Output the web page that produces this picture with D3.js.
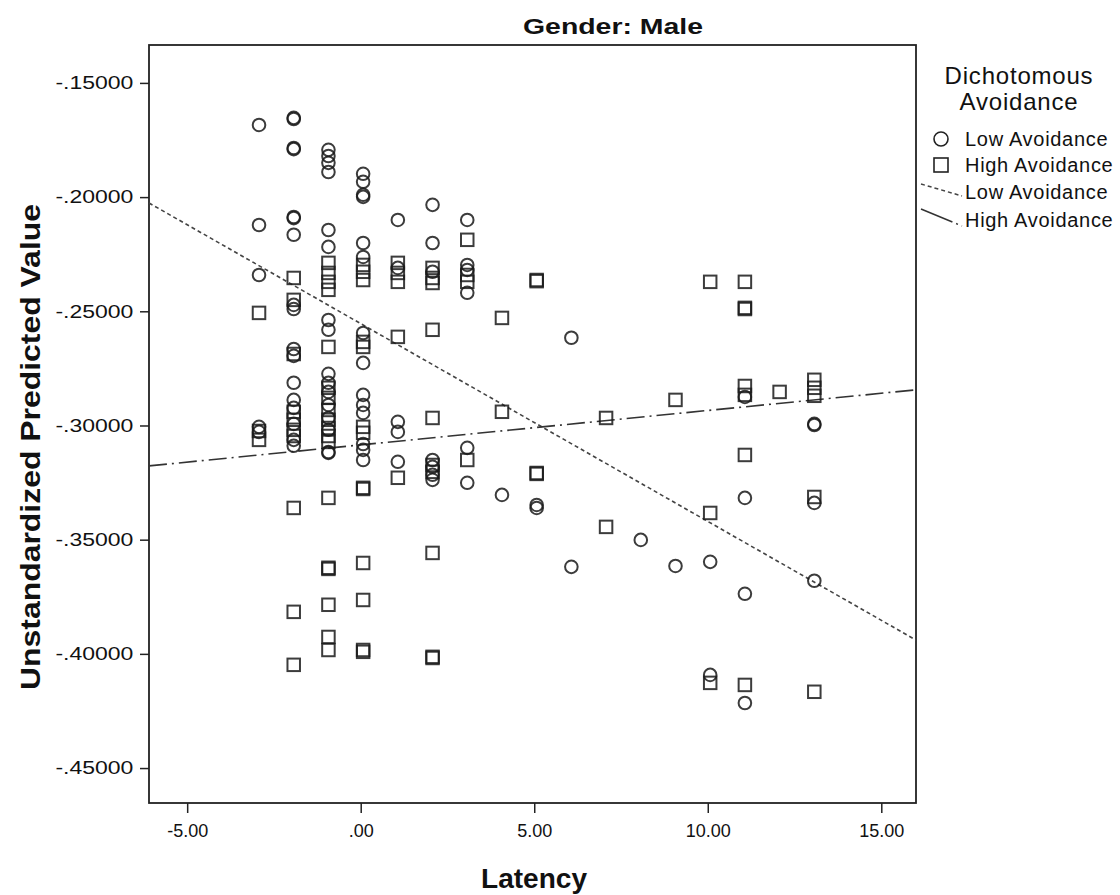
<!DOCTYPE html>
<html lang="en">
<head>
  <meta charset="UTF-8">
  <title>Gender: Male - Predicted Value by Latency</title>
  <script src="https://d3js.org/d3.v7.min.js"></script>
  <style>
    body {
      margin: 0;
      background: #fff;
      font-family: 'Liberation Sans', Arial, sans-serif;
    }
    svg text {
      fill: #111;
    }
  </style>
</head>
<body>
<div id="chart"></div>

<script>
  // Low Avoidance: [latency, unstandardized predicted value]
  const lowPoints = [
    [-2.93, -0.1684], [-2.93, -0.2122], [-2.93, -0.2341], [-2.93, -0.3006], [-2.93, -0.3028],
    [-1.93, -0.1653], [-1.93, -0.1658], [-1.93, -0.1785], [-1.93, -0.1790], [-1.93, -0.2087],
    [-1.93, -0.2092], [-1.93, -0.2165], [-1.93, -0.2472], [-1.93, -0.2490], [-1.93, -0.2665],
    [-1.93, -0.2695], [-1.93, -0.2813], [-1.93, -0.2888], [-1.93, -0.2923], [-1.93, -0.2993],
    [-1.93, -0.3063], [-1.93, -0.3089],
    [-0.93, -0.1793], [-0.93, -0.1820], [-0.93, -0.1850], [-0.93, -0.1890], [-0.93, -0.2144],
    [-0.93, -0.2218], [-0.93, -0.2538], [-0.93, -0.2581], [-0.93, -0.2774], [-0.93, -0.2813],
    [-0.93, -0.2853], [-0.93, -0.2910], [-0.93, -0.2967], [-0.93, -0.3019], [-0.93, -0.3116],
    [-0.93, -0.3120],
    [0.07, -0.1898], [0.07, -0.1933], [0.07, -0.1990], [0.07, -0.1999], [0.07, -0.2201],
    [0.07, -0.2262], [0.07, -0.2595], [0.07, -0.2726], [0.07, -0.2866], [0.07, -0.2910],
    [0.07, -0.2945], [0.07, -0.3081], [0.07, -0.3107], [0.07, -0.3151],
    [1.07, -0.2100], [1.07, -0.2310], [1.07, -0.2984], [1.07, -0.3028], [1.07, -0.3159],
    [2.07, -0.2034], [2.07, -0.2201], [2.07, -0.2327], [2.07, -0.3151], [2.07, -0.3181],
    [2.07, -0.3216], [2.07, -0.3238],
    [3.07, -0.2100], [3.07, -0.2297], [3.07, -0.2319], [3.07, -0.2419], [3.07, -0.3098],
    [3.07, -0.3251],
    [4.07, -0.3304],
    [5.07, -0.3348], [5.07, -0.3361],
    [6.07, -0.2616], [6.07, -0.3619],
    [8.07, -0.3501],
    [9.07, -0.3615],
    [10.07, -0.3597], [10.07, -0.4092],
    [11.07, -0.2875], [11.07, -0.3317], [11.07, -0.3737], [11.07, -0.4215],
    [13.07, -0.2993], [13.07, -0.2998], [13.07, -0.3339], [13.07, -0.3680]
  ];

  // High Avoidance: [latency, unstandardized predicted value]
  const highPoints = [
    [-2.93, -0.2507], [-2.93, -0.3024], [-2.93, -0.3063],
    [-1.93, -0.2354], [-1.93, -0.2450], [-1.93, -0.2687], [-1.93, -0.2940], [-1.93, -0.2975],
    [-1.93, -0.3019], [-1.93, -0.3046], [-1.93, -0.3361], [-1.93, -0.3816], [-1.93, -0.4048],
    [-0.93, -0.2288], [-0.93, -0.2332], [-0.93, -0.2371], [-0.93, -0.2406], [-0.93, -0.2656],
    [-0.93, -0.2835], [-0.93, -0.2879], [-0.93, -0.2932], [-0.93, -0.2975], [-0.93, -0.3011],
    [-0.93, -0.3046], [-0.93, -0.3072], [-0.93, -0.3317], [-0.93, -0.3623], [-0.93, -0.3628],
    [-0.93, -0.3785], [-0.93, -0.3926], [-0.93, -0.3983],
    [0.07, -0.2297], [0.07, -0.2327], [0.07, -0.2363], [0.07, -0.2634], [0.07, -0.2656],
    [0.07, -0.3006], [0.07, -0.3032], [0.07, -0.3273], [0.07, -0.3278], [0.07, -0.3602],
    [0.07, -0.3764], [0.07, -0.3983], [0.07, -0.3991],
    [1.07, -0.2288], [1.07, -0.2332], [1.07, -0.2371], [1.07, -0.2612], [1.07, -0.3229],
    [2.07, -0.2310], [2.07, -0.2354], [2.07, -0.2376], [2.07, -0.2581], [2.07, -0.2967],
    [2.07, -0.3173], [2.07, -0.3203], [2.07, -0.3558], [2.07, -0.4013], [2.07, -0.4018],
    [3.07, -0.2187], [3.07, -0.2341], [3.07, -0.2371], [3.07, -0.3151],
    [4.07, -0.2529], [4.07, -0.2940],
    [5.07, -0.2363], [5.07, -0.2368], [5.07, -0.3208], [5.07, -0.3212],
    [7.07, -0.2967], [7.07, -0.3444],
    [9.07, -0.2888],
    [10.07, -0.2371], [10.07, -0.3383], [10.07, -0.4127],
    [11.07, -0.2371], [11.07, -0.2485], [11.07, -0.2490], [11.07, -0.2827], [11.07, -0.2866],
    [11.07, -0.3129], [11.07, -0.4136],
    [12.07, -0.2853],
    [13.07, -0.2800], [13.07, -0.2835], [13.07, -0.2870], [13.07, -0.3313], [13.07, -0.4166]
  ];

  // fit lines: [intercept, slope]
  const lowFit = [-0.2554, -0.00866];
  const highFit = [-0.3085, 0.001507];

  const xTicks = [-5, 0, 5, 10, 15];
  const yTicks = [-0.15, -0.20, -0.25, -0.30, -0.35, -0.40, -0.45];
  const legendLabels = ["Low Avoidance", "High Avoidance", "Low Avoidance", "High Avoidance"];

  const width = 1120, height = 895;
  const plot = { left: 149, right: 916, top: 45, bottom: 803 };

  const x = d3.scaleLinear().domain([-6.1, 16.0]).range([plot.left, plot.right]);
  const y = d3.scaleLinear().domain([-0.4653, -0.1334]).range([plot.bottom, plot.top]);

  // SPSS style numbers: plain hyphen, no leading zero
  const spss = (v, n) => d3.format("." + n + "f")(v)
    .replace("\u2212", "-")
    .replace(/^(-?)0\./, "$1.");

  const svg = d3.select("#chart").append("svg")
    .attr("width", width)
    .attr("height", height);

  svg.append("clipPath").attr("id", "clip")
    .append("rect")
    .attr("x", plot.left).attr("y", plot.top)
    .attr("width", plot.right - plot.left).attr("height", plot.bottom - plot.top);

  // title
  svg.append("text")
    .attr("x", 613).attr("y", 34)
    .attr("text-anchor", "middle")
    .attr("textLength", 180)
    .attr("lengthAdjust", "spacingAndGlyphs")
    .style("font-size", "22px").style("font-weight", "bold")
    .text("Gender: Male");

  // axes
  const xAxis = d3.axisBottom(x).tickValues(xTicks).tickSize(10).tickSizeOuter(0)
    .tickFormat(d => spss(d, 2));
  const yAxis = d3.axisLeft(y).tickValues(yTicks).tickSize(9).tickSizeOuter(0)
    .tickFormat(d => spss(d, 5));

  const gx = svg.append("g")
    .attr("transform", `translate(0,${plot.bottom})`)
    .call(xAxis);
  const gy = svg.append("g")
    .attr("transform", `translate(${plot.left},0)`)
    .call(yAxis);

  [gx, gy].forEach(g => {
    g.select(".domain").remove();
    g.selectAll(".tick line").attr("stroke", "#222").attr("stroke-width", 1.5);
    g.selectAll(".tick text")
      .style("font-size", "18px")
      .style("font-family", "'Liberation Sans', Arial, sans-serif")
      .attr("fill", "#111");
  });
  gx.selectAll(".tick text").attr("dy", "1.15em");
  gy.selectAll(".tick text")
    .attr("dx", "-0.2em")
    .attr("textLength", 78)
    .attr("lengthAdjust", "spacingAndGlyphs");

  // frame
  svg.append("rect")
    .attr("x", plot.left).attr("y", plot.top)
    .attr("width", plot.right - plot.left).attr("height", plot.bottom - plot.top)
    .attr("fill", "none")
    .attr("stroke", "#222")
    .attr("stroke-width", 1.8);

  // axis titles
  svg.append("text")
    .attr("x", 534).attr("y", 888)
    .attr("text-anchor", "middle")
    .attr("textLength", 106)
    .attr("lengthAdjust", "spacingAndGlyphs")
    .style("font-size", "27px").style("font-weight", "bold")
    .text("Latency");

  svg.append("text")
    .attr("transform", `translate(40,${447}) rotate(-90)`)
    .attr("text-anchor", "middle")
    .attr("textLength", 486)
    .attr("lengthAdjust", "spacingAndGlyphs")
    .style("font-size", "27px").style("font-weight", "bold")
    .text("Unstandardized Predicted Value");

  const marks = svg.append("g").attr("clip-path", "url(#clip)");

  // fit lines
  const fitLine = fit => x.domain().map(v => [v, fit[0] + fit[1] * v]);
  const line = d3.line().x(d => x(d[0])).y(d => y(d[1]));

  marks.append("path")
    .datum(fitLine(lowFit))
    .attr("d", line)
    .attr("fill", "none")
    .attr("stroke", "#444")
    .attr("stroke-width", 1.6)
    .attr("stroke-dasharray", "4,3");

  marks.append("path")
    .datum(fitLine(highFit))
    .attr("d", line)
    .attr("fill", "none")
    .attr("stroke", "#333")
    .attr("stroke-width", 1.6)
    .attr("stroke-dasharray", "18,5,2,5");

  // markers
  marks.selectAll(".low")
    .data(lowPoints)
    .join("circle")
    .attr("class", "low")
    .attr("cx", d => x(d[0]))
    .attr("cy", d => y(d[1]))
    .attr("r", 6.3)
    .attr("fill", "none")
    .attr("stroke", "#1a1a1a")
    .attr("stroke-opacity", 0.85)
    .attr("stroke-width", 2);

  const sq = 12.5;
  marks.selectAll(".high")
    .data(highPoints)
    .join("rect")
    .attr("class", "high")
    .attr("x", d => x(d[0]) - sq / 2)
    .attr("y", d => y(d[1]) - sq / 2)
    .attr("width", sq)
    .attr("height", sq)
    .attr("fill", "none")
    .attr("stroke", "#1a1a1a")
    .attr("stroke-opacity", 0.85)
    .attr("stroke-width", 2);

  // legend
  const legend = svg.append("g");
  legend.append("text")
    .attr("x", 1019).attr("y", 84)
    .attr("text-anchor", "middle")
    .style("font-size", "24px")
    .style("letter-spacing", "0.8px")
    .text("Dichotomous");
  legend.append("text")
    .attr("x", 1019).attr("y", 110)
    .attr("text-anchor", "middle")
    .style("font-size", "24px")
    .style("letter-spacing", "0.8px")
    .text("Avoidance");

  const rowY = [139, 165, 192, 220];
  legend.selectAll(".item")
    .data(legendLabels)
    .join("text")
    .attr("class", "item")
    .attr("x", 965)
    .attr("y", (d, i) => rowY[i] + 7)
    .style("font-size", "20px")
    .style("letter-spacing", "0.7px")
    .text(d => d);

  legend.append("circle")
    .attr("cx", 941).attr("cy", rowY[0])
    .attr("r", 7)
    .attr("fill", "none").attr("stroke", "#222").attr("stroke-width", 1.6);
  legend.append("rect")
    .attr("x", 934).attr("y", rowY[1] - 7)
    .attr("width", 14).attr("height", 14)
    .attr("fill", "none").attr("stroke", "#222").attr("stroke-width", 1.6);
  legend.append("line")
    .attr("x1", 921).attr("y1", rowY[2] - 8)
    .attr("x2", 962).attr("y2", rowY[2] + 4)
    .attr("stroke", "#444").attr("stroke-width", 1.5)
    .attr("stroke-dasharray", "4,3");
  legend.append("line")
    .attr("x1", 921).attr("y1", rowY[3] - 11)
    .attr("x2", 962).attr("y2", rowY[3] + 6)
    .attr("stroke", "#333").attr("stroke-width", 1.5)
    .attr("stroke-dasharray", "34,4,2,4");
</script>
</body>
</html>
